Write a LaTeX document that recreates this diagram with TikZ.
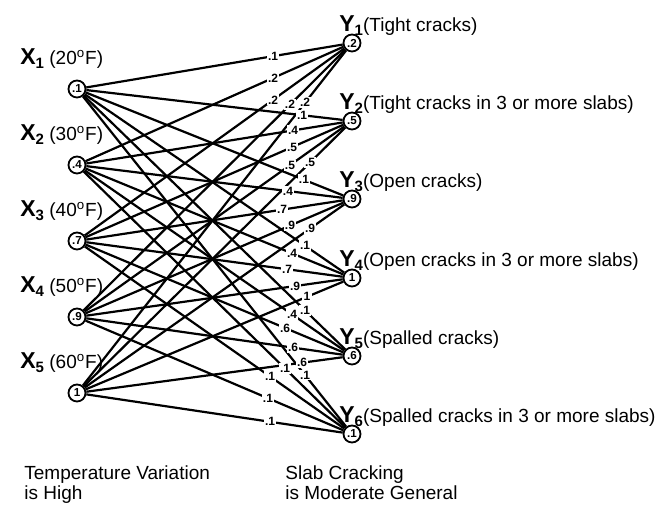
\documentclass[tikz,border=0pt]{standalone}
\usepackage{fontspec}
\setmainfont{Liberation Sans}

\newcommand{\varname}[2]{{\fontsize{11.5}{12}\selectfont\bfseries #1\raisebox{-2pt}{\fontsize{7.5}{8}\selectfont #2}}}

\begin{document}
\begin{tikzpicture}[x=0.5pt, y=0.5pt, every node/.style={font=\fontsize{9.5}{10}\selectfont},
	mnode/.style={draw, circle, line width=0.9pt, minimum size=8.5pt, inner sep=0pt, font=\bfseries\fontsize{5.8}{6}\selectfont},
	wlab/.style={fill=white, inner sep=0.6pt, font=\bfseries\fontsize{6}{6}\selectfont},
	vlab/.style={anchor=base west, inner sep=0pt}]
	\useasboundingbox (0,0) rectangle (670,506);
	% temperature variation
	\node[mnode] (x1) at (77,417) {.1};
	\node[mnode] (x2) at (77,341) {.4};
	\node[mnode] (x3) at (77,265) {.7};
	\node[mnode] (x4) at (77,189) {.9};
	\node[mnode] (x5) at (77,113) {1};
	\node[vlab] (xl1) at (20,441) {\varname{X}{1} (20\textsuperscript{o}F)};
	\node[vlab] (xl2) at (20,365) {\varname{X}{2} (30\textsuperscript{o}F)};
	\node[vlab] (xl3) at (20,289) {\varname{X}{3} (40\textsuperscript{o}F)};
	\node[vlab] (xl4) at (20,213) {\varname{X}{4} (50\textsuperscript{o}F)};
	\node[vlab] (xl5) at (20,137) {\varname{X}{5} (60\textsuperscript{o}F)};
	% slab cracking
	\node[mnode] (y1) at (352,463) {.2};
	\node[mnode] (y2) at (352,385) {.5};
	\node[mnode] (y3) at (352,307) {.9};
	\node[mnode] (y4) at (352,228) {1};
	\node[mnode] (y5) at (352,150) {.6};
	\node[mnode] (y6) at (352,72) {.1};
	\node[vlab] (yl1) at (339,474) {\varname{Y}{1}(Tight cracks)};
	\node[vlab] (yl2) at (339,396) {\varname{Y}{2}(Tight cracks in 3 or more slabs)};
	\node[vlab] (yl3) at (339,318) {\varname{Y}{3}(Open cracks)};
	\node[vlab] (yl4) at (339,239) {\varname{Y}{4}(Open cracks in 3 or more slabs)};
	\node[vlab] (yl5) at (339,161) {\varname{Y}{5}(Spalled cracks)};
	\node[vlab] (yl6) at (339,83) {\varname{Y}{6}(Spalled cracks in 3 or more slabs)};
	% every x goes to every y
	\foreach \i in {1,...,5}
		\foreach \j in {1,...,6}
			\draw[line width=1.1pt] (x\i) -- (y\j);
	% min(x,y) written close to the y end
	\foreach \i/\j/\d/\w in {1/1/79/.1, 2/1/79/.2, 3/1/79/.2, 4/1/62/.2, 5/1/47/.2,
			1/2/50/.1, 2/2/59/.4, 3/2/60/.5, 4/2/62/.5, 5/2/42/.5,
			1/3/48/.1, 2/3/64/.4, 3/3/70/.7, 4/3/62/.9, 5/3/42/.9,
			1/4/47/.1, 2/4/60/.4, 3/4/65/.7, 4/4/57/.9, 5/4/45/1,
			1/5/47/.1, 2/5/60/.4, 3/5/67/.6, 4/5/59/.6, 5/5/50/.6,
			1/6/47/.1, 2/6/67/.1, 3/6/82/.1, 4/6/84/.1, 5/6/82/.1} {
		\pgfmathsetmacro\p{1-\d/275}
		\path (x\i.center) -- (y\j.center) node[wlab, pos=\p] (w\i\j) {\w};
	}
	\node[anchor=north west, align=left, inner sep=0pt] (tv) at (24,41) {Temperature Variation\\is High};
	\node[anchor=north west, align=left, inner sep=0pt] (sc) at (285,41) {Slab Cracking\\is Moderate General};
\end{tikzpicture}
\end{document}
